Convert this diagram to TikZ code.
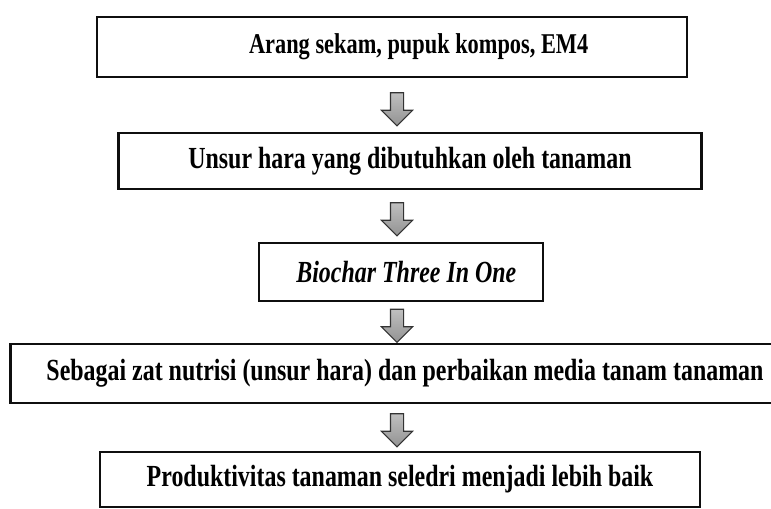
\documentclass[tikz,border=0pt]{standalone}
\usepackage{fontspec}
\setmainfont{Liberation Serif}[FakeStretch=0.78]
\usetikzlibrary{shapes.arrows}

\definecolor{garis}{RGB}{15,15,15}

\begin{document}
\begin{tikzpicture}[x=0.75pt, y=-0.75pt,
    kotak/.style={draw=garis, line width=2pt, inner sep=0pt,
        font=\fontsize{23}{27}\selectfont\bfseries},
    panah/.style={single arrow, draw=black!80, line width=0.8pt,
        top color=gray!50, bottom color=gray!85, shape border rotate=270,
        inner sep=4.5pt, minimum width=0pt, minimum height=24.75pt,
        single arrow head extend=6.75pt}]
        % Batas gambar
        \useasboundingbox (0,0) rectangle (771,509);

        % Kotak-kotak alur
        \node[kotak, minimum width=442.5pt, minimum height=45pt, font=\fontsize{21.5}{25}\selectfont\bfseries] (bahan) at (392,47) {\hspace*{40pt}Arang sekam, pupuk kompos, EM4};
        \node[kotak, minimum width=437pt, minimum height=42pt] (hara) at (410,161) {Unsur hara yang dibutuhkan oleh tanaman};
        \node[kotak, minimum width=213pt, minimum height=43.5pt, font=\fontsize{23}{27}\selectfont\bfseries\itshape] (biochar) at (401,272) {\hspace*{8pt}Biochar Three In One};
        \node[kotak, minimum width=592pt, minimum height=44.25pt] (nutrisi) at (405,373.5) {Sebagai zat nutrisi (unsur hara) dan perbaikan media tanam tanaman};
        \node[kotak, minimum width=450pt, minimum height=41.25pt] (hasil) at (400,479.5) {Produktivitas tanaman seledri menjadi lebih baik};

        % Panah blok
        \node[panah] (p1) at (397,106) {};
        \node[panah] (p2) at (397,216) {};
        \node[panah] (p3) at (397,322.5) {};
        \node[panah] (p4) at (397,427) {};
    \end{tikzpicture}
\end{document}
